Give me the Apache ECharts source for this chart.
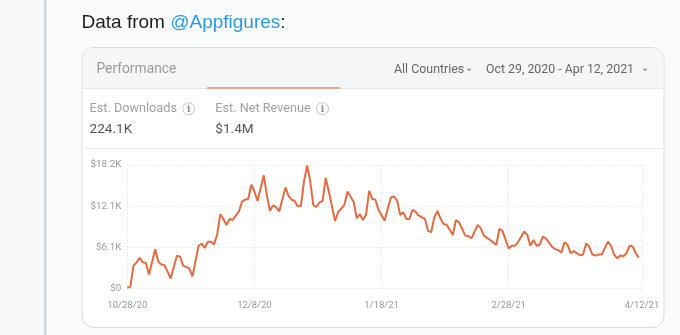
<!DOCTYPE html>
<html><head><meta charset="utf-8">
<script src="https://cdn.jsdelivr.net/npm/echarts@6/dist/echarts.min.js"></script>
<style>html,body{margin:0;padding:0;background:#fafbfb}#c{width:680px;height:335px}</style>
</head><body><div id="c"></div>
<script>
// ---- data ----
const dates = [
'2020-10-28','2020-10-29','2020-10-30','2020-10-31',
'2020-11-01','2020-11-02','2020-11-03','2020-11-04','2020-11-06','2020-11-07','2020-11-08','2020-11-09','2020-11-11','2020-11-13','2020-11-14','2020-11-15','2020-11-17','2020-11-18','2020-11-20','2020-11-21','2020-11-22','2020-11-23','2020-11-24','2020-11-25','2020-11-26','2020-11-27','2020-11-28','2020-11-29','2020-11-30',
'2020-12-01','2020-12-02','2020-12-03','2020-12-04','2020-12-05','2020-12-06','2020-12-07','2020-12-08','2020-12-09','2020-12-11','2020-12-12','2020-12-13','2020-12-14','2020-12-15','2020-12-16','2020-12-18','2020-12-19','2020-12-20','2020-12-21','2020-12-22','2020-12-23','2020-12-24','2020-12-25','2020-12-26','2020-12-27','2020-12-28','2020-12-29','2020-12-30','2020-12-31',
'2021-01-01','2021-01-03','2021-01-04','2021-01-06','2021-01-07','2021-01-08','2021-01-09','2021-01-10','2021-01-11','2021-01-12','2021-01-13','2021-01-14','2021-01-15','2021-01-16','2021-01-17','2021-01-18','2021-01-19','2021-01-20','2021-01-21','2021-01-22','2021-01-23','2021-01-24','2021-01-25','2021-01-26','2021-01-27','2021-01-28','2021-01-29','2021-01-30',
'2021-02-01','2021-02-02','2021-02-03','2021-02-04','2021-02-05','2021-02-06','2021-02-07','2021-02-08','2021-02-10','2021-02-11','2021-02-12','2021-02-13','2021-02-14','2021-02-15','2021-02-16','2021-02-18','2021-02-19','2021-02-20','2021-02-22','2021-02-23','2021-02-24','2021-02-25','2021-02-26','2021-02-27','2021-02-28',
'2021-03-01','2021-03-02','2021-03-03','2021-03-05','2021-03-06','2021-03-07','2021-03-08','2021-03-09','2021-03-10','2021-03-11','2021-03-12','2021-03-14','2021-03-15','2021-03-16','2021-03-17','2021-03-18','2021-03-19','2021-03-20','2021-03-21','2021-03-23','2021-03-24','2021-03-25','2021-03-26','2021-03-27','2021-03-28','2021-03-29','2021-03-30',
'2021-04-01','2021-04-02','2021-04-03','2021-04-04','2021-04-05','2021-04-06','2021-04-07','2021-04-08','2021-04-09','2021-04-10','2021-04-11'
];
const revenueK = [
0.1,0.3,3.36,3.85,
4.54,3.85,3.75,2.07,5.8,3.95,3.55,3.45,1.48,4.84,4.7,3.36,2.96,1.78,6.3,6.6,6.0,6.9,6.9,6.5,8.0,10.95,10.25,9.37,10.25,
10.1,10.75,11.35,12.8,13.1,13.2,15.3,14.3,12.9,16.7,13.8,11.45,12.25,11.95,11.35,14.9,13.7,13.1,12.9,12.1,12.2,15.8,18.15,15.8,12.3,12.0,12.7,12.9,16.3,
14.3,9.95,11.25,12.3,14.3,13.55,12.8,10.35,10.95,10.1,10.85,14.4,13.2,13.1,11.6,10.8,10.0,11.8,13.4,13.55,13.0,10.85,11.25,10.25,10.25,11.6,11.3,10.75,
10.25,8.5,8.3,10.45,11.45,10.35,9.5,9.4,7.9,10.1,9.75,8.8,7.8,7.7,7.4,9.35,8.9,7.8,7.15,6.8,6.4,8.8,8.5,7.2,5.9,
6.3,6.3,6.8,8.4,7.9,6.3,7.15,6.3,6.45,7.65,7.4,6.15,5.8,5.67,5.3,6.8,6.45,5.2,5.5,4.9,5.0,6.65,6.15,5.0,4.85,5.0,5.0,
6.9,6.3,5.0,4.45,4.85,4.75,5.2,6.3,6.2,5.2,4.54
];
const xTickDates = ['2020-10-28','2020-12-08','2021-01-18','2021-02-28','2021-04-12'];
const xTickLabels = ['10/28/20','12/8/20','1/18/21','2/28/21','4/12/21'];
const yTickLabels = ['$0','$6.1K','$12.1K','$18.2K'];
const yMaxK = 18.2;

const introText = 'Data from ';
const handleText = '@Appfigures';
const tabTitle = 'Performance';
const countryText = 'All Countries';
const rangeText = 'Oct 29, 2020 - Apr 12, 2021';
const kpiNames = ['Est. Downloads', 'Est. Net Revenue'];
const kpiValues = ['224.1K', '$1.4M'];

// ---- build ----
const chart = echarts.init(document.getElementById('c'), null, {renderer: 'canvas'});
const parse = s => Date.UTC(+s.slice(0, 4), +s.slice(5, 7) - 1, +s.slice(8, 10));
const xTickTimes = xTickDates.map(parse);
const yStep = yMaxK / (yTickLabels.length - 1);
const seriesData = dates.map((d, i) => [parse(d), revenueK[i]]);
const FONT = '"Liberation Sans", Arial, sans-serif';
const CARD = 'Roboto, "Liberation Sans", Arial, sans-serif';

function xLabel(v) {
  for (let i = 0; i < xTickTimes.length; i++) {
    if (Math.abs(xTickTimes[i] - v) < 3600e3 * 12) return xTickLabels[i];
  }
  return '';
}

const gridLine = {show: true, lineStyle: {color: '#dedede', type: [1, 2], width: 1}};

function infoIcon(cx, cy) {
  return [
    {type: 'circle', z: 2, shape: {cx: cx, cy: cy, r: 6}, style: {fill: 'none', stroke: '#c4c4c4', lineWidth: 1}},
    {type: 'text', z: 2, style: {x: cx, y: cy + 0.5, align: 'center', verticalAlign: 'middle', text: 'i', font: 'bold 9px "DejaVu Serif", serif', fill: '#8a8a8a'}}
  ];
}

const graphics = [
  {type: 'rect', z: 0, shape: {x: 0, y: 0, width: 45, height: 335}, style: {fill: '#f5f7f8'}},
  {type: 'rect', z: 0, shape: {x: 44, y: 0, width: 2.5, height: 335}, style: {fill: '#cdd6dc'}},
  {type: 'rect', z: 0, shape: {x: 82, y: 47.5, width: 582, height: 280, r: 12}, style: {fill: '#ffffff', stroke: '#d5dbdf', lineWidth: 1}},
  {type: 'rect', z: 0, shape: {x: 82.5, y: 48, width: 581, height: 40.5, r: [11.5, 11.5, 0, 0]}, style: {fill: '#f5f6f7'}},
  {type: 'line', z: 0, shape: {x1: 82.5, y1: 88.5, x2: 663.5, y2: 88.5}, style: {stroke: '#e7e9eb', lineWidth: 1}},
  {type: 'line', z: 0, shape: {x1: 82.5, y1: 148.5, x2: 663.5, y2: 148.5}, style: {stroke: '#ececec', lineWidth: 1}},
  {type: 'rect', z: 1, shape: {x: 207, y: 87, width: 133, height: 2}, style: {fill: '#eaa78b'}},
  {type: 'text', z: 2, style: {x: 81.5, y: 22.5, verticalAlign: 'middle',
    text: '{a|' + introText + '}{b|' + handleText + '}{a|:}',
    rich: {a: {fontSize: 19, fontFamily: FONT, fill: '#1c2025'}, b: {fontSize: 19, fontFamily: FONT, fill: '#2a9ae0'}}}},
  {type: 'text', z: 2, style: {x: 96.5, y: 69.5, verticalAlign: 'middle', text: tabTitle, font: '13.8px ' + CARD, fill: '#9b9b9b'}},
  {type: 'text', z: 2, style: {x: 394, y: 70, verticalAlign: 'middle', text: countryText, font: '12.4px ' + CARD, fill: '#666'}},
  {type: 'polygon', z: 2, shape: {points: [[466.5, 68.8], [471.5, 68.8], [469, 71.3]]}, style: {fill: '#999'}},
  {type: 'text', z: 2, style: {x: 486, y: 70, verticalAlign: 'middle', text: rangeText, font: '12.35px ' + CARD, fill: '#666'}},
  {type: 'polygon', z: 2, shape: {points: [[642.5, 68.8], [647.5, 68.8], [645, 71.3]]}, style: {fill: '#999'}},
  {type: 'text', z: 2, style: {x: 89.5, y: 109, verticalAlign: 'middle', text: kpiNames[0], font: '12.7px ' + CARD, fill: '#a0a0a0'}},
  ...infoIcon(188.7, 108.7),
  {type: 'text', z: 2, style: {x: 215.3, y: 109, verticalAlign: 'middle', text: kpiNames[1], font: '12.7px ' + CARD, fill: '#a0a0a0'}},
  ...infoIcon(322.5, 108.7),
  {type: 'text', z: 2, style: {x: 89.5, y: 129.7, verticalAlign: 'middle', text: kpiValues[0], font: '13.6px ' + CARD, fill: '#555'}},
  {type: 'text', z: 2, style: {x: 215.3, y: 129.7, verticalAlign: 'middle', text: kpiValues[1], font: '13.6px ' + CARD, fill: '#555'}}
];

chart.setOption({
  animation: false,
  backgroundColor: '#fafbfb',
  graphic: {elements: graphics},
  grid: {left: 127.3, right: 38, top: 165, bottom: 46.5, containLabel: false},
  xAxis: {
    type: 'value', z: 3,
    min: xTickTimes[0], max: xTickTimes[xTickTimes.length - 1],
    axisLine: {show: false}, axisTick: {show: false, customValues: xTickTimes},
    splitLine: gridLine,
    axisLabel: {customValues: xTickTimes, formatter: xLabel, color: '#999', fontSize: 9.5, fontFamily: CARD, margin: 12, showMinLabel: true, showMaxLabel: true, hideOverlap: false}
  },
  yAxis: {
    type: 'value', z: 3, min: 0, max: yMaxK, interval: yStep,
    axisLine: {show: false}, axisTick: {show: false},
    splitLine: gridLine,
    axisLabel: {formatter: v => yTickLabels[Math.round(v / yStep)], color: '#999', fontSize: 9.8, fontFamily: CARD, margin: 6}
  },
  series: [{
    type: 'line', z: 4, data: seriesData, showSymbol: false, symbol: 'none',
    lineStyle: {color: '#e26b40', width: 2}, itemStyle: {color: '#e26b40'}
  }]
});
</script></body></html>
